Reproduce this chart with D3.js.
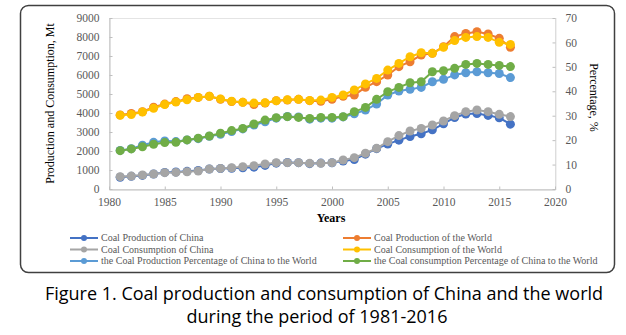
<!DOCTYPE html>
<html>
<head>
<meta charset="utf-8">
<script src="https://cdn.jsdelivr.net/npm/d3@7"></script>
<style>
  body { margin: 0; background: #fff; }
</style>
</head>
<body>
<div id="chart"></div>
<script>
const years = d3.range(1981, 2017);

// Mt
const chinaProduction = [620, 666, 715, 789, 872, 894, 928, 980, 1054, 1080, 1087, 1116, 1150, 1240, 1361, 1397, 1388, 1332, 1364, 1384, 1472, 1550, 1835, 2122, 2365, 2571, 2760, 2903, 3115, 3428, 3764, 3945, 3974, 3874, 3747, 3411];
const worldProduction = [3900, 3980, 4070, 4300, 4470, 4600, 4750, 4820, 4880, 4720, 4600, 4560, 4450, 4520, 4650, 4680, 4720, 4650, 4620, 4720, 4880, 4950, 5350, 5650, 6000, 6440, 6700, 7050, 7140, 7490, 8020, 8190, 8280, 8160, 7930, 7460];
const chinaConsumption = [650, 680, 735, 790, 860, 875, 910, 945, 1050, 1085, 1120, 1175, 1230, 1315, 1385, 1385, 1385, 1350, 1350, 1385, 1525, 1650, 1880, 2140, 2490, 2810, 3050, 3190, 3370, 3580, 3860, 4070, 4160, 4070, 3930, 3810];
const worldConsumption = [3880, 3920, 4050, 4250, 4450, 4580, 4700, 4820, 4880, 4740, 4620, 4560, 4520, 4540, 4640, 4700, 4720, 4660, 4680, 4820, 4950, 5210, 5530, 5820, 6260, 6610, 6960, 7170, 7140, 7460, 7810, 7980, 8020, 7980, 7720, 7610];
// %
const productionShare = [15.8, 16.5, 17.9, 19.1, 19.7, 19.4, 20.1, 20.6, 21.6, 22.4, 23.5, 24.6, 26.2, 27.5, 29.0, 29.7, 29.5, 28.6, 29.0, 29.0, 29.5, 30.8, 32.3, 34.8, 38.5, 40.1, 40.8, 41.6, 43.9, 44.9, 46.7, 47.6, 48.0, 47.6, 47.3, 45.6];
const consumptionShare = [15.7, 16.4, 17.3, 18.3, 19.0, 19.1, 20.1, 20.8, 21.7, 22.8, 23.9, 24.8, 26.6, 28.2, 29.2, 29.6, 29.3, 28.9, 29.3, 29.3, 29.6, 31.6, 33.4, 36.7, 39.8, 41.6, 43.5, 43.9, 48.0, 48.4, 49.4, 51.0, 51.4, 51.0, 50.6, 50.1];

const leftTicks = d3.range(0, 9001, 1000);
const rightTicks = d3.range(0, 71, 10);
const yearTicks = d3.range(1980, 2021, 5);

const series = [
  { name: "Coal Production of China", values: chinaProduction, axis: "left", color: "#4472C4" },
  { name: "Coal Production of the World", values: worldProduction, axis: "left", color: "#ED7D31" },
  { name: "Coal Consumption of China", values: chinaConsumption, axis: "left", color: "#A5A5A5" },
  { name: "Coal Consumption of the World", values: worldConsumption, axis: "left", color: "#FFC000" },
  { name: "the Coal Production Percentage of China to the World", values: productionShare, axis: "right", color: "#5B9BD5" },
  { name: "the Coal consumption Percentage of China to the World", values: consumptionShare, axis: "right", color: "#70AD47" }
];

const width = 626, height = 335;
const plot = { left: 109, right: 555, top: 18, bottom: 189 };
const serif = "'Liberation Serif', 'DejaVu Serif', serif";

const svg = d3.select("#chart")
  .append("svg")
  .attr("width", width)
  .attr("height", height);

// outer frame
svg.append("rect")
  .attr("x", 20.5).attr("y", 5.5)
  .attr("width", 594).attr("height", 267)
  .attr("rx", 8)
  .attr("fill", "#fff")
  .attr("stroke", "#404040")
  .attr("stroke-width", 1.5);

const x = d3.scaleLinear().domain([1980, 2020]).range([plot.left, plot.right]);
const yL = d3.scaleLinear().domain([0, 9000]).range([plot.bottom, plot.top]);
const yR = d3.scaleLinear().domain([0, 70]).range([plot.bottom, plot.top]);

// plot area border (dotted)
svg.append("rect")
  .attr("x", plot.left + 0.5).attr("y", plot.top + 0.5)
  .attr("width", plot.right - plot.left).attr("height", plot.bottom - plot.top)
  .attr("fill", "none")
  .attr("stroke", "#c8c8c8")
  .attr("stroke-dasharray", "1,1");

function styleAxis(g) {
  g.select(".domain").attr("stroke", "#bfbfbf");
  g.selectAll(".tick line").attr("stroke", "#bfbfbf");
  g.selectAll(".tick text")
    .attr("fill", "#595959")
    .style("font-family", serif)
    .style("font-size", "11.5px");
}

svg.append("g")
  .attr("transform", `translate(${plot.left + 0.5},0)`)
  .call(d3.axisLeft(yL).tickValues(leftTicks).tickFormat(d3.format("d")).tickSize(-3).tickPadding(10).tickSizeOuter(0))
  .call(styleAxis);

svg.append("g")
  .attr("transform", `translate(${plot.right + 0.5},0)`)
  .call(d3.axisRight(yR).tickValues(rightTicks).tickFormat(d3.format("d")).tickSize(-3).tickPadding(10).tickSizeOuter(0))
  .call(styleAxis)
  .call(g => g.select(".domain").attr("stroke-dasharray", "1,1").attr("stroke", "#c8c8c8"));

svg.append("g")
  .attr("transform", `translate(0,${plot.bottom + 0.5})`)
  .call(d3.axisBottom(x).tickValues(yearTicks).tickFormat(d3.format("d")).tickSize(-3).tickPadding(8).tickSizeOuter(0))
  .call(styleAxis);

// axis titles
svg.append("text")
  .attr("transform", `translate(54,${(plot.top + plot.bottom) / 2}) rotate(-90)`)
  .attr("text-anchor", "middle")
  .style("font-family", serif)
  .style("font-size", "12px")
  .text("Production and Consumption, Mt");

svg.append("text")
  .attr("transform", `translate(590,${(plot.top + plot.bottom) / 2 - 6}) rotate(90)`)
  .attr("text-anchor", "middle")
  .style("font-family", serif)
  .style("font-size", "12px")
  .text("Percentage, %");

svg.append("text")
  .attr("x", 331).attr("y", 222)
  .attr("text-anchor", "middle")
  .style("font-family", serif)
  .style("font-size", "12px")
  .style("font-weight", "bold")
  .text("Years");

// lines and markers
series.forEach(s => {
  const y = s.axis === "left" ? yL : yR;
  const pts = years.map((yr, i) => [yr, s.values[i]]);
  const line = d3.line().x(d => x(d[0])).y(d => y(d[1]));

  svg.append("path")
    .datum(pts)
    .attr("d", line)
    .attr("fill", "none")
    .attr("stroke", s.color)
    .attr("stroke-width", 2);

  svg.append("g")
    .selectAll("circle")
    .data(pts)
    .enter()
    .append("circle")
    .attr("cx", d => x(d[0]))
    .attr("cy", d => y(d[1]))
    .attr("r", 4.5)
    .attr("fill", s.color);
});

// legend
const legend = svg.append("g");
series.forEach((s, i) => {
  const col = i % 2, row = Math.floor(i / 2);
  const lx = col === 0 ? 70 : 343;
  const ly = 238 + row * 11.5;
  const g = legend.append("g").attr("transform", `translate(${lx},${ly})`);
  g.append("line")
    .attr("x1", 0).attr("x2", 28)
    .attr("stroke", s.color).attr("stroke-width", 2);
  g.append("circle").attr("cx", 14).attr("r", 3).attr("fill", s.color);
  g.append("text")
    .attr("x", 31).attr("y", 3)
    .attr("fill", "#595959")
    .style("font-family", serif)
    .style("font-size", "10px")
    .text(s.name);
});

// caption
const caption = svg.append("g")
  .attr("text-anchor", "middle")
  .style("font-family", "'Open Sans', 'Noto Sans', sans-serif")
  .style("font-size", "18px")
  .attr("fill", "#000");
caption.append("text")
  .attr("x", 324).attr("y", 300)
  .text("Figure 1. Coal production and consumption of China and the world");
caption.append("text")
  .attr("x", 317).attr("y", 323)
  .text("during the period of 1981-2016");
</script>
</body>
</html>
